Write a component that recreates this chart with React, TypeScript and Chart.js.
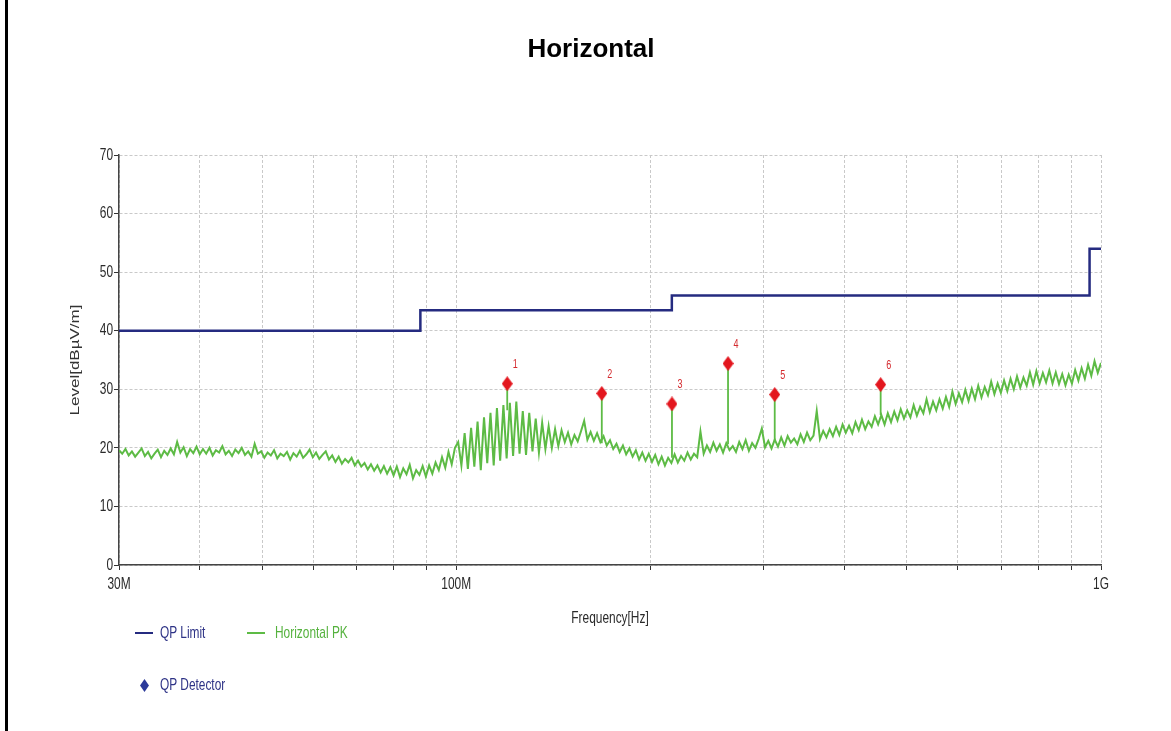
import React, { useEffect, useRef } from 'react';
import { Chart, registerables } from 'chart.js';

Chart.register(...registerables);

// ---------- data ----------
const TITLE = 'Horizontal';
const X_TITLE = 'Frequency[Hz]';
const Y_TITLE = 'Level[dBµV/m]';

const X_MIN_MHZ = 30;
const X_MAX_MHZ = 1000;
const X_TICK_VALUES = [30, 40, 50, 60, 70, 80, 90, 100, 200, 300, 400, 500, 600, 700, 800, 900, 1000];
const X_TICK_LABELS = ['30M', '', '', '', '', '', '', '100M', '', '', '', '', '', '', '', '', '1G'];
const Y_MIN = 0;
const Y_MAX = 70;
const Y_STEP = 10;

// QP limit (step-before)
const LIMIT_FREQ_MHZ = [30, 88, 216, 960, 1000];
const LIMIT_LEVEL = [40, 43.5, 46, 54, 54];

// Horizontal PK sweep: levels, sweep points spaced evenly (log) from 30 MHz to 1 GHz
const PK_LEVEL = [
  // 30-40M
  19.6, 19.0, 19.8, 18.7, 19.4, 18.5, 19.2, 19.9, 18.6, 19.3, 18.2, 19.0, 19.7, 18.4, 19.5, 18.8, 19.9, 18.9, 21.0, 19.2, 20.1, 18.6, 19.8, 19.1, 20.2,
  // 40-50M
  18.9, 19.8, 19.0, 20.0, 18.7, 19.6, 19.2, 20.3, 18.9, 19.5, 18.6, 19.7, 19.1, 20.0, 18.8, 19.4, 18.5, 20.7, 19.0,
  // 50-60M
  19.4, 18.3, 19.2, 18.7, 19.6, 18.2, 19.0, 18.6, 19.3, 18.0, 19.1, 18.5, 19.5, 18.3, 18.9, 19.7, 18.4,
  // 60-70M
  19.2, 18.1, 18.8, 19.4, 18.0, 18.7, 17.6, 18.5, 17.3, 18.1, 17.5, 18.3, 17.0,
  // 70-80M
  17.8, 16.8, 17.4, 16.3, 17.2, 16.1, 17.0, 15.8, 16.9, 15.6, 16.7, 15.3,
  // 80-90M
  16.8, 15.0, 16.5, 15.5, 17.1, 14.8, 16.2, 15.4, 16.9, 15.1,
  // 90-100M
  17.0, 15.6, 17.5, 16.2, 18.4, 16.6, 19.3, 17.2, 20.0,
  // 100-145M
  21.0, 17.0, 22.5, 16.4, 23.4, 16.8, 24.5, 16.2, 25.2, 17.4,
  26.0, 17.0, 26.8, 17.8, 27.3, 18.2, 27.7, 18.6, 27.9, 19.0,
  26.3, 18.8, 26.0, 19.4, 25.0, 19.2, 24.3, 19.8, 23.7, 20.0,
  23.2, 20.3, 23.0,
  // 145-170M
  21.0, 22.6, 20.6, 22.2, 21.1, 22.8, 24.6, 21.4, 22.7, 21.2, 22.5, 21.0, 22.0,
  // 170-200M
  20.4, 21.3, 19.8, 20.7, 19.3, 20.4, 18.9, 19.9, 18.5, 19.6, 18.0, 19.2, 17.8, 19.0,
  // 200-235M
  17.6, 18.8, 17.2, 18.5, 17.0, 18.3, 17.4, 18.9, 17.5, 18.6, 17.8, 19.2, 18.0, 19.0, 18.4,
  // 235-265M
  22.8, 19.0, 20.4, 19.3, 20.9, 19.5, 20.6, 19.2, 20.8, 19.6, 20.3,
  // 265-315M
  19.3, 21.0, 19.8, 21.3, 19.5, 20.8, 20.0, 21.5, 23.3, 20.1, 21.2, 19.9, 21.4, 20.2,
  // 315-456M
  21.8, 20.4, 22.0, 20.9, 21.6, 20.6, 22.3, 21.0, 22.6, 21.3,
  22.1, 26.3, 21.5, 22.9, 21.8, 23.2, 22.0, 23.6, 22.2, 24.0,
  22.6, 23.8, 22.5, 24.4, 23.0, 24.8, 23.2, 24.5, 23.6, 25.4,
  24.0, 25.6,
  // 456M-1G
  24.0, 25.9, 24.4, 26.2, 24.7, 26.6, 25.0, 26.4, 25.2, 27.3,
  25.5, 27.0, 25.9, 28.3, 26.1, 27.9, 26.4, 28.3, 26.7, 28.7,
  27.0, 29.6, 27.5, 29.3, 27.8, 29.9, 28.0, 30.1, 28.3, 30.6,
  28.6, 30.4, 29.0, 31.3, 29.2, 31.0, 29.4, 31.5, 29.7, 31.8,
  30.0, 32.2, 30.3, 32.0, 30.6, 32.9, 30.8, 33.1, 31.0, 32.8,
  31.2, 33.2, 31.0, 32.9, 30.9, 32.6, 30.7, 32.5, 31.0, 33.3,
  31.5, 33.6, 31.8, 34.2, 32.3, 34.8, 32.8, 34.5,
];

// QP detector readings
const MARKER_FREQ_MHZ = [120.0, 168.2, 216.1, 264.0, 311.9, 455.3];
const MARKER_LEVEL = [30.95, 29.3, 27.5, 34.4, 29.1, 30.8];
const MARKER_STEM_BASE = [26.4, 20.8, 18.3, 20.6, 21.0, 25.6];
const MARKER_LABELS = ['1', '2', '3', '4', '5', '6'];

const LEGEND_LIMIT = 'QP Limit';
const LEGEND_PK = 'Horizontal PK';
const LEGEND_QP = 'QP Detector';

// ---------- styles ----------
const NAVY = '#252b80';
const GREEN = '#5dbb45';
const RED = '#e3161e';
const SANS = '"Liberation Sans", Arial, sans-serif';
const SQUEEZE = 0.7; // horizontal squeeze of the axis text
const AXIS_FONT = '17px ' + SANS;

function makeDiamond(w: number, h: number, color: string) {
  const c = document.createElement('canvas');
  c.width = w;
  c.height = h;
  const g = c.getContext('2d')!;
  g.fillStyle = color;
  g.beginPath();
  g.moveTo(w / 2, 0);
  g.lineTo(w, h / 2);
  g.lineTo(w / 2, h);
  g.lineTo(0, h / 2);
  g.closePath();
  g.fill();
  return c;
}

function squeezedText(ctx: CanvasRenderingContext2D, text: string, x: number, y: number, align: CanvasTextAlign, sx: number, rotate = 0) {
  ctx.save();
  ctx.translate(x, y);
  ctx.scale(sx, 1);
  if (rotate) ctx.rotate(rotate);
  ctx.textAlign = align;
  ctx.textBaseline = 'middle';
  ctx.fillText(text, 0, 0);
  ctx.restore();
}

const axisTextPlugin = {
  id: 'axisText',
  afterDraw(chart: any) {
    const { ctx, scales } = chart;
    const xs = scales.x;
    const ys = scales.y;
    ctx.save();
    ctx.font = AXIS_FONT;
    ctx.fillStyle = '#2a2a2a';
    X_TICK_VALUES.forEach((v, i) => {
      const lbl = X_TICK_LABELS[i];
      if (!lbl) return;
      squeezedText(ctx, lbl, xs.getPixelForValue(v), xs.top + 19, 'center', SQUEEZE);
    });
    ys.ticks.forEach((t: any) => {
      squeezedText(ctx, String(t.value), ys.right - 6, ys.getPixelForValue(t.value), 'right', SQUEEZE);
    });
    squeezedText(ctx, X_TITLE, (xs.left + xs.right) / 2, xs.top + 53, 'center', SQUEEZE);
    ctx.fillStyle = '#333';
    squeezedText(ctx, Y_TITLE, ys.left + 76, (ys.top + ys.bottom) / 2, 'center', SQUEEZE, -Math.PI / 2);
    ctx.restore();
  },
};

const markerLabelPlugin = {
  id: 'markerLabels',
  afterDatasetsDraw(chart: any) {
    const meta = chart.getDatasetMeta(0);
    const ctx = chart.ctx;
    ctx.save();
    ctx.fillStyle = '#d42a2e';
    ctx.font = '12px ' + SANS;
    meta.data.forEach((pt: any, i: number) => {
      squeezedText(ctx, MARKER_LABELS[i], pt.x + 8, pt.y - 19, 'center', 0.75);
    });
    ctx.restore();
  },
};

export default function App() {
  const canvasRef = useRef<HTMLCanvasElement | null>(null);

  useEffect(() => {
    const n = PK_LEVEL.length;
    const ratio = X_MAX_MHZ / X_MIN_MHZ;
    const pkData = PK_LEVEL.map((v, i) => ({ x: X_MIN_MHZ * Math.pow(ratio, i / (n - 1)), y: v }));
    const limitData = LIMIT_FREQ_MHZ.map((f, i) => ({ x: f, y: LIMIT_LEVEL[i] }));
    const markerData = MARKER_FREQ_MHZ.map((f, i) => ({ x: f, y: MARKER_LEVEL[i] }));
    const stemData: any[] = [];
    MARKER_FREQ_MHZ.forEach((f, i) => {
      stemData.push({ x: f, y: MARKER_LEVEL[i] });
      stemData.push({ x: f, y: MARKER_STEM_BASE[i] });
      stemData.push({ x: f, y: null });
    });

    const diamond = makeDiamond(11, 15, RED);

    const gridOpts = {
      color: '#c9c9c9',
      lineWidth: 1,
      tickLength: 5,
      tickColor: '#333',
      tickWidth: 1,
      tickBorderDash: [],
    };

    const chart = new Chart(canvasRef.current!, {
      type: 'line',
      data: {
        datasets: [
          {
            label: LEGEND_QP,
            data: markerData,
            showLine: false,
            pointStyle: diamond as any,
            pointRadius: 7,
            borderColor: RED,
            backgroundColor: RED,
          },
          {
            label: 'stems',
            data: stemData,
            borderColor: GREEN,
            borderWidth: 1.8,
            pointRadius: 0,
            spanGaps: false,
          },
          {
            label: LEGEND_LIMIT,
            data: limitData,
            stepped: 'before',
            borderColor: NAVY,
            borderWidth: 2.5,
            pointRadius: 0,
          },
          {
            label: LEGEND_PK,
            data: pkData,
            borderColor: GREEN,
            borderWidth: 2,
            pointRadius: 0,
            tension: 0,
          },
        ],
      },
      options: {
        animation: false,
        responsive: false,
        events: [],
        layout: { padding: { top: 155, right: 70, bottom: 0, left: 0 } },
        plugins: {
          legend: { display: false },
          tooltip: { enabled: false },
          title: { display: false },
        },
        scales: {
          x: {
            type: 'logarithmic',
            min: X_MIN_MHZ,
            max: X_MAX_MHZ,
            afterBuildTicks: (scale: any) => {
              scale.ticks = X_TICK_VALUES.map((v) => ({ value: v }));
            },
            afterFit: (scale: any) => {
              scale.height = 166;
            },
            ticks: { display: false, autoSkip: false, maxRotation: 0 },
            grid: gridOpts,
            border: { display: true, color: '#444', width: 1.5, dash: [3, 2] },
            title: { display: false },
          },
          y: {
            type: 'linear',
            min: Y_MIN,
            max: Y_MAX,
            afterFit: (scale: any) => {
              scale.width = 119;
            },
            ticks: { display: false, stepSize: Y_STEP },
            grid: gridOpts,
            border: { display: true, color: '#444', width: 1.5, dash: [3, 2] },
            title: { display: false },
          },
        },
      },
      plugins: [markerLabelPlugin, axisTextPlugin],
    } as any);

    return () => chart.destroy();
  }, []);

  const textStyle: React.CSSProperties = {
    position: 'absolute',
    fontFamily: SANS,
    fontSize: 17,
    lineHeight: '20px',
    whiteSpace: 'nowrap',
    transform: `scaleX(${SQUEEZE})`,
    transformOrigin: 'left center',
  };

  return (
    <div style={{ position: 'absolute', left: 0, top: 0, width: 1171, height: 731, background: '#fff', overflow: 'hidden' }}>
      <div style={{ position: 'absolute', left: 5, top: 0, width: 3, height: 731, background: '#000' }} />
      <canvas ref={canvasRef} width={1171} height={731} style={{ position: 'absolute', left: 0, top: 0 }} />
      <div
        style={{
          position: 'absolute',
          left: 0,
          width: 1182,
          top: 35,
          textAlign: 'center',
          fontFamily: SANS,
          fontWeight: 'bold',
          fontSize: 26,
          lineHeight: '26px',
          color: '#000',
        }}
      >
        {TITLE}
      </div>
      {/* legend */}
      <div style={{ position: 'absolute', left: 135, top: 632, width: 18, height: 2, background: NAVY }} />
      <div style={{ ...textStyle, left: 160, top: 623, color: '#2e3386' }}>{LEGEND_LIMIT}</div>
      <div style={{ position: 'absolute', left: 247, top: 632, width: 18, height: 2, background: GREEN }} />
      <div style={{ ...textStyle, left: 275, top: 623, color: '#55b23e' }}>{LEGEND_PK}</div>
      <svg style={{ position: 'absolute', left: 140, top: 679 }} width={9} height={13}>
        <polygon points="4.5,0 9,6.5 4.5,13 0,6.5" fill="#2c3a9a" />
      </svg>
      <div style={{ ...textStyle, left: 160, top: 675, color: '#2e3386' }}>{LEGEND_QP}</div>
    </div>
  );
}
